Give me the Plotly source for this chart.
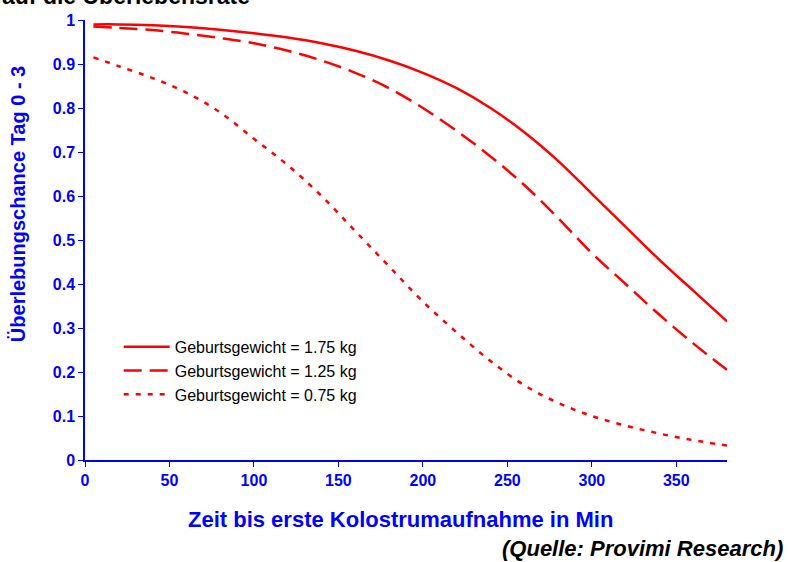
import plotly.graph_objects as go

zeit = [5, 20, 40, 60, 80, 100, 120, 140, 160, 180, 200, 220, 240, 260, 280, 300, 320, 340, 360, 380]
gew_175 = [0.99, 0.99, 0.988, 0.984, 0.978, 0.970, 0.960, 0.947, 0.930, 0.908, 0.880, 0.845, 0.800, 0.745, 0.680, 0.605, 0.530, 0.455, 0.385, 0.315]
gew_125 = [0.985, 0.982, 0.977, 0.969, 0.959, 0.947, 0.930, 0.908, 0.880, 0.845, 0.800, 0.748, 0.690, 0.625, 0.550, 0.470, 0.400, 0.330, 0.265, 0.205]
gew_075 = [0.915, 0.895, 0.868, 0.835, 0.790, 0.730, 0.670, 0.600, 0.520, 0.440, 0.360, 0.290, 0.225, 0.170, 0.130, 0.100, 0.078, 0.060, 0.045, 0.033]
names = ["Geburtsgewicht = 1.75 kg", "Geburtsgewicht = 1.25 kg", "Geburtsgewicht = 0.75 kg"]
x_ticks = [0, 50, 100, 150, 200, 250, 300, 350]
y_ticks = [0, 0.1, 0.2, 0.3, 0.4, 0.5, 0.6, 0.7, 0.8, 0.9, 1]

fig = go.Figure()
for vals, name, dash in [(gew_175, names[0], "solid"),
                         (gew_125, names[1], "18px,8px"),
                         (gew_075, names[2], "5px,7px")]:
    fig.add_trace(go.Scatter(x=zeit, y=vals, mode="lines", name=name,
                             line=dict(color="#ff0000", width=2.5, dash=dash, shape="spline")))

blue = "#0000ff"
fig.update_layout(
    width=788, height=562,
    margin=dict(l=85, r=61, t=17, b=102),
    paper_bgcolor="white", plot_bgcolor="white",
    font=dict(family="Liberation Sans, Arial, sans-serif"),
    showlegend=True,
    legend=dict(x=0.0525, y=0.296, xanchor="left", yanchor="top",
                bgcolor="rgba(0,0,0,0)", font=dict(size=16, color="black"),
                tracegroupgap=0, itemwidth=46),
    xaxis=dict(range=[0, 380], tickvals=x_ticks, showgrid=False, zeroline=False,
               showline=True, linecolor=blue, linewidth=1.5, ticks="outside",
               tickcolor=blue, ticklen=5, tickfont=dict(size=16, color=blue, weight="bold")),
    yaxis=dict(range=[0, 1], tickvals=y_ticks, showgrid=False, zeroline=False,
               showline=True, linecolor=blue, linewidth=1.5, ticks="outside",
               tickcolor=blue, ticklen=5, tickfont=dict(size=16, color=blue, weight="bold")),
)
fig.add_annotation(text="<b>Zeit bis erste Kolostrumaufnahme in Min</b>", xref="paper", yref="paper",
                   x=0.492, y=-0.135, xanchor="center", yanchor="middle", showarrow=False,
                   font=dict(size=22, color=blue))
fig.add_annotation(text="<b>Überlebungschance Tag 0 - 3</b>", xref="paper", yref="paper",
                   x=-0.104, y=0.582, xanchor="center", yanchor="middle", showarrow=False, textangle=-90,
                   font=dict(size=20, color=blue))
fig.add_annotation(text="<b><i>(Quelle: Provimi Research)</i></b>", xref="paper", yref="paper",
                   x=1.090, y=-0.201, xanchor="right", yanchor="middle", showarrow=False,
                   font=dict(size=22, color="black"))
fig.add_annotation(text="<b>auf die Überlebensrate</b>", xref="paper", yref="paper",
                   x=-0.132, y=1.02, xanchor="left", yanchor="bottom", showarrow=False,
                   font=dict(size=23, color="black"))
fig.write_html("out.html", config={"displayModeBar": False},
               post_script="document.body.style.margin='0';")
